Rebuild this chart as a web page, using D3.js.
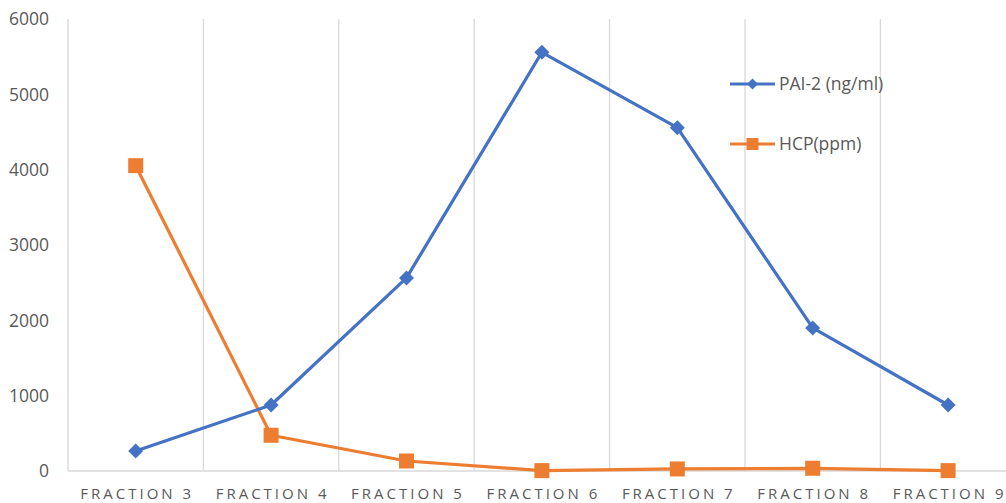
<!DOCTYPE html>
<html>
<head>
<meta charset="utf-8">
<script src="https://cdn.jsdelivr.net/npm/d3@7"></script>
<style>
  html, body { margin: 0; padding: 0; background: #fff; }
  svg { display: block; font-family: "Open Sans", sans-serif; }
</style>
</head>
<body>
<svg id="chart" width="1006" height="503"></svg>
<script>
// Fractions collected and the two measured quantities per fraction
const categories = ["FRACTION 3", "FRACTION 4", "FRACTION 5", "FRACTION 6", "FRACTION 7", "FRACTION 8", "FRACTION 9"];
const pai2 = [265, 876, 2563, 5558, 4557, 1899, 876];
const hcp = [4053, 474, 133, 5, 27, 36, 5];
const yTicks = [0, 1000, 2000, 3000, 4000, 5000, 6000];
const seriesNames = ["PAI-2 (ng/ml)", "HCP(ppm)"];

const colors = { pai2: "#4472C4", hcp: "#ED7D31" };
const svg = d3.select("#chart");

const plotLeft = 68, plotTop = 19, plotBottom = 471;
const bandW = 135.4;
const x = d3.scaleBand().domain(categories).range([plotLeft, plotLeft + bandW * categories.length]).paddingInner(0).paddingOuter(0);
const y = d3.scaleLinear().domain([0, 6000]).range([plotBottom, plotTop]);

// vertical category separators
const sep = d3.range(categories.length).map(i => plotLeft + i * bandW);
svg.append("g").selectAll("line").data(sep).join("line")
  .attr("x1", d => d).attr("x2", d => d)
  .attr("y1", plotTop).attr("y2", plotBottom)
  .attr("stroke", "#d9d9d9").attr("stroke-width", 1.3);

// baseline
svg.append("line").attr("x1", plotLeft).attr("x2", 1006)
  .attr("y1", plotBottom).attr("y2", plotBottom)
  .attr("stroke", "#d9d9d9").attr("stroke-width", 1.3);

// y axis labels
svg.append("g").selectAll("text").data(yTicks).join("text")
  .attr("x", 49).attr("y", d => y(d)).attr("dy", "0.36em")
  .attr("text-anchor", "end").attr("fill", "#595959").attr("font-size", 17.5)
  .text(d => d);

// x axis labels
svg.append("g").selectAll("text").data(categories).join("text")
  .attr("x", d => x(d) + x.bandwidth() / 2 + 1.5).attr("y", 499)
  .attr("text-anchor", "middle").attr("fill", "#595959").attr("font-size", 15)
  .attr("letter-spacing", 3)
  .text(d => d);

const cx = d => x(d) + x.bandwidth() / 2;
const line = d3.line().x(d => cx(d.c)).y(d => y(d.v));

function diamond(g, px, py, r) {
  g.append("path")
    .attr("d", `M${px},${py - r}L${px + r},${py}L${px},${py + r}L${px - r},${py}Z`)
    .attr("fill", colors.pai2);
}
function square(g, px, py, s) {
  g.append("rect").attr("x", px - s / 2).attr("y", py - s / 2)
    .attr("width", s).attr("height", s).attr("fill", colors.hcp);
}

// HCP series (drawn first so PAI-2 overlaps)
const hcpData = categories.map((c, i) => ({ c, v: hcp[i] }));
svg.append("path").datum(hcpData).attr("d", line)
  .attr("fill", "none").attr("stroke", colors.hcp).attr("stroke-width", 3.2)
  .attr("stroke-linejoin", "round");
const gH = svg.append("g");
hcpData.forEach(d => square(gH, cx(d.c), y(d.v), 15));

// PAI-2 series
const paiData = categories.map((c, i) => ({ c, v: pai2[i] }));
svg.append("path").datum(paiData).attr("d", line)
  .attr("fill", "none").attr("stroke", colors.pai2).attr("stroke-width", 3.2)
  .attr("stroke-linejoin", "round");
const gP = svg.append("g");
paiData.forEach(d => diamond(gP, cx(d.c), y(d.v), 7.5));

// legend
const legend = svg.append("g");
const legY = [84, 144];
legend.append("line").attr("x1", 730).attr("x2", 775).attr("y1", legY[0]).attr("y2", legY[0])
  .attr("stroke", colors.pai2).attr("stroke-width", 3.2);
diamond(legend, 752.5, legY[0], 5.5);
legend.append("line").attr("x1", 730).attr("x2", 775).attr("y1", legY[1]).attr("y2", legY[1])
  .attr("stroke", colors.hcp).attr("stroke-width", 3.2);
square(legend, 752.5, legY[1], 12);
legend.selectAll("text").data(seriesNames).join("text")
  .attr("x", 779).attr("y", (d, i) => legY[i]).attr("dy", "0.36em")
  .attr("fill", "#595959").attr("font-size", 17.5)
  .text(d => d);
</script>
</body>
</html>
